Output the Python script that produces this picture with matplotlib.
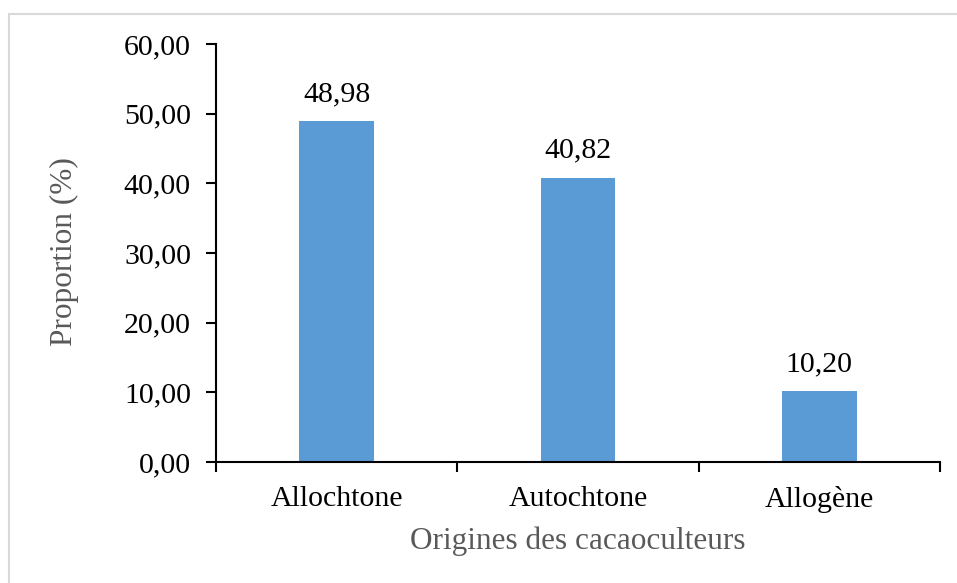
import matplotlib
matplotlib.use("Agg")
import matplotlib.pyplot as plt
from matplotlib.patches import Rectangle
from matplotlib.ticker import FixedLocator, FuncFormatter

categories = ["Allochtone", "Autochtone", "Allogène"]
values = [48.98, 40.82, 10.20]
value_labels = ["48,98", "40,82", "10,20"]
yticks = [0, 10, 20, 30, 40, 50, 60]

plt.rcParams['font.family'] = ['Liberation Serif', 'DejaVu Serif']

W, H = 957, 583
fig = plt.figure(figsize=(W/100, H/100), dpi=100)
ax = fig.add_axes([216/W, 1-462/H, (940-216)/W, (462-44)/H])

x = list(range(len(categories)))
ax.bar(x, values, width=0.31, color="#5B9BD5", zorder=2)
ax.set_xlim(-0.5, len(categories)-0.5)
ax.set_ylim(0, 60)

ax.set_yticks(yticks)
ax.yaxis.set_major_formatter(FuncFormatter(lambda v, p: f"{v:.2f}".replace(".", ",")))
ax.tick_params(axis='y', direction='out', length=7, width=1.5, labelsize=21.5, pad=11, colors='black')

ax.xaxis.set_major_locator(FixedLocator([i - 0.5 for i in range(len(categories)+1)]))
ax.xaxis.set_major_formatter(FuncFormatter(lambda v, p: ""))
ax.xaxis.set_minor_locator(FixedLocator(x))
ax.set_xticklabels(categories, minor=True)
ax.tick_params(axis='x', which='major', direction='out', length=7, width=1.5)
ax.tick_params(axis='x', which='minor', length=0, labelsize=21.5, pad=17)

for s in ['top', 'right']:
    ax.spines[s].set_visible(False)
for s in ['left', 'bottom']:
    ax.spines[s].set_linewidth(1.5)

for xi, v, lab in zip(x, values, value_labels):
    ax.annotate(lab, (xi, v), xytext=(0, 10), textcoords='offset points',
                ha='center', va='bottom', fontsize=21.5)

fig.text(64/W, 1-252/H, "Proportion (%)", rotation=90, ha='center', va='center',
         fontsize=22.5, color='#595959')
fig.text(578/W, 1-541/H, "Origines des cacaoculteurs", ha='center', va='center',
         fontsize=22.5, color='#595959')

fig.patches.append(Rectangle((9/W, -0.01), 1, 1 - 14/H + 0.01, transform=fig.transFigure,
                             fill=False, edgecolor='#D9D9D9', linewidth=1.5))

fig.savefig("out.png", dpi=100)
